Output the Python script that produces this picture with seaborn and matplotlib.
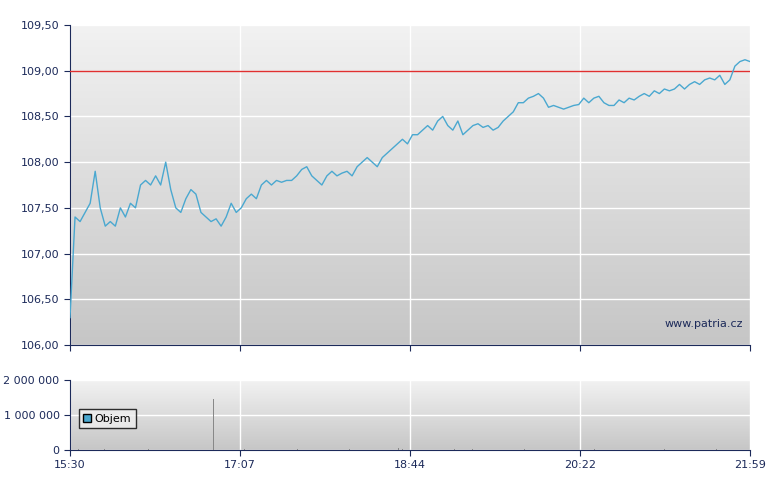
import numpy as np
import pandas as pd
import matplotlib
matplotlib.use("Agg")
import matplotlib.pyplot as plt
import seaborn as sns
from matplotlib.patches import Patch

tick_labels = ["15:30", "17:07", "18:44", "20:22", "21:59"]
price = [106.3, 107.4, 107.35, 107.45, 107.55, 107.9, 107.5, 107.3, 107.35, 107.3, 107.5, 107.4,
         107.55, 107.5, 107.75, 107.8, 107.75, 107.85, 107.75, 108.0, 107.7, 107.5, 107.45, 107.6,
         107.7, 107.65, 107.45, 107.4, 107.35, 107.38, 107.3, 107.4, 107.55, 107.45, 107.5, 107.6,
         107.65, 107.6, 107.75, 107.8, 107.75, 107.8, 107.78, 107.8, 107.8, 107.85, 107.92, 107.95,
         107.85, 107.8, 107.75, 107.85, 107.9, 107.85, 107.88, 107.9, 107.85, 107.95, 108.0, 108.05,
         108.0, 107.95, 108.05, 108.1, 108.15, 108.2, 108.25, 108.2, 108.3, 108.3, 108.35, 108.4,
         108.35, 108.45, 108.5, 108.4, 108.35, 108.45, 108.3, 108.35, 108.4, 108.42, 108.38, 108.4,
         108.35, 108.38, 108.45, 108.5, 108.55, 108.65, 108.65, 108.7, 108.72, 108.75, 108.7, 108.6,
         108.62, 108.6, 108.58, 108.6, 108.62, 108.63, 108.7, 108.65, 108.7, 108.72, 108.65, 108.62,
         108.62, 108.68, 108.65, 108.7, 108.68, 108.72, 108.75, 108.72, 108.78, 108.75, 108.8, 108.78,
         108.8, 108.85, 108.8, 108.85, 108.88, 108.85, 108.9, 108.92, 108.9, 108.95, 108.85, 108.9,
         109.05, 109.1, 109.12, 109.1]
prev_close = 109.0
vol_minutes = [5, 20, 45, 82, 100, 130, 160, 188, 190, 220, 230, 260, 300, 340, 370]
vol_values = [30000, 20000, 25000, 1450000, 30000, 25000, 40000, 60000, 30000, 40000, 30000, 35000, 20000, 25000, 20000]

total = 389
df = pd.DataFrame({"t": np.linspace(0, total, len(price)), "p": price})
navy = "#1c2a5a"

fig = plt.figure(figsize=(7.8, 4.9), dpi=100)
ax = fig.add_axes([70/780, 1-345/490, 680/780, 320/490])
axv = fig.add_axes([70/780, 1-450/490, 680/780, 70/490])

grad = np.linspace(0, 1, 256).reshape(-1, 1)
cm = matplotlib.colors.LinearSegmentedColormap.from_list("g", ["#f2f2f2", "#c6c6c6"])
for a, (y0, y1) in [(ax, (106, 109.5)), (axv, (0, 2000000))]:
    a.imshow(grad, cmap=cm, extent=[0, total, y0, y1], aspect="auto", origin="upper", zorder=0)
    a.set_xlim(0, total); a.set_ylim(y0, y1)
    for s in ["top", "right"]:
        a.spines[s].set_visible(False)
    a.spines["left"].set_color(navy); a.spines["bottom"].set_color(navy)
    a.set_xticks(np.linspace(0, total, 5))
    a.grid(True, color="white", lw=1, zorder=1)
    a.set_axisbelow(True)
    a.tick_params(colors=navy, labelsize=8, length=4)

sns.lineplot(data=df, x="t", y="p", ax=ax, color="#4aa8d0", lw=1, zorder=4)
ax.axhline(prev_close, color="#e03030", lw=1, zorder=3)
ax.set_yticks(np.arange(106, 109.51, 0.5))
ax.set_yticklabels([f"{v:.2f}".replace(".", ",") for v in np.arange(106, 109.51, 0.5)])
ax.set_xticklabels([])
ax.set_xlabel(""); ax.set_ylabel("")
ax.text(0.99, 0.05, "www.patria.cz", transform=ax.transAxes, ha="right", va="bottom", fontsize=8, color=navy)

axv.bar(vol_minutes, vol_values, width=0.6, color="#888888", zorder=3)
axv.set_yticks([0, 1000000, 2000000])
axv.set_yticklabels(["0", "1 000 000", "2 000 000"])
axv.set_xticklabels(tick_labels)
leg = axv.legend(handles=[Patch(facecolor="#4aa8d0", edgecolor="black", label="Objem")], loc="center left",
                 bbox_to_anchor=(0.005, 0.45), fontsize=8, frameon=True, fancybox=False,
                 handlelength=0.7, handleheight=0.7, handletextpad=0.3)
leg.get_frame().set_edgecolor("black"); leg.get_frame().set_facecolor("#eeeeee")

fig.savefig("out.png", dpi=100)
